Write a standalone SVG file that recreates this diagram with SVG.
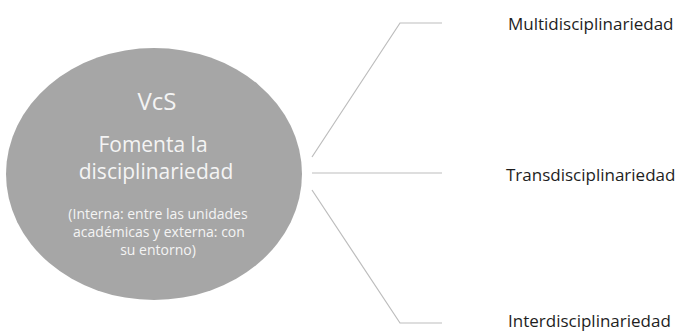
<svg xmlns="http://www.w3.org/2000/svg" width="685" height="332" viewBox="0 0 685 332">
<style>
.lbl{font-family:"Open Sans","Liberation Sans",sans-serif;font-size:17px;fill:#1e1e1e}
.w{font-family:"Open Sans","Liberation Sans",sans-serif;fill:#f4f4f4;text-anchor:middle}
.c{fill:none;stroke:#bdbdbd;stroke-width:1.2}
</style>
<rect width="685" height="332" fill="#ffffff"/>
<g id="connectors">
<polyline class="c" points="312,157 400,23 442,23"/>
<line class="c" x1="312" y1="173" x2="442" y2="173"/>
<polyline class="c" points="312,190 400,323 442,323"/>
</g>
<g id="center">
<ellipse cx="154" cy="174" rx="148" ry="126" fill="#a6a6a6"/>
<text class="w" x="157" y="110" font-size="24">VcS</text>
<text class="w" x="153" y="152" font-size="21">Fomenta la</text>
<text class="w" x="156" y="179" font-size="21">disciplinariedad</text>
<text class="w" x="158" y="219" font-size="14">(Interna: entre  las unidades</text>
<text class="w" x="159" y="237" font-size="14">académicas  y externa: con</text>
<text class="w" x="158" y="255" font-size="14">su entorno)</text>
</g>
<g id="multi"><text class="lbl" x="508" y="30">Multidisciplinariedad</text></g>
<g id="trans"><text class="lbl" x="506" y="181">Transdisciplinariedad</text></g>
<g id="inter"><text class="lbl" x="508" y="327">Interdisciplinariedad</text></g>
</svg>
